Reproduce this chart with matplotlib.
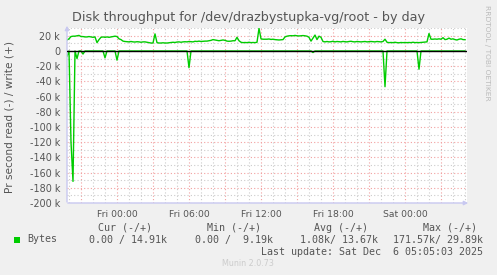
import numpy as np
import matplotlib
matplotlib.use("Agg")
import matplotlib.pyplot as plt
import matplotlib.dates as mdates
from matplotlib.ticker import MultipleLocator, FuncFormatter
from matplotlib.patches import Rectangle

# 5-minute munin samples, shown here every 10 minutes
start = np.datetime64("2025-12-04T19:50")
step_min = 10

# write (+), in k bytes per second
write_k = [
    14.5, 16, 19, 19.5, 19.5, 20, 20.5, 19, 19, 18.5,
    18.5, 19, 18.5, 18, 18.5, 11, 15, 18, 18.5, 18,
    18.5, 18, 18.5, 19, 19.5, 19, 16, 15, 13, 12.5,
    12.2, 12, 12.5, 12, 11.8, 12.2, 12, 11.5, 12, 12,
    11.5, 11, 10.5, 10.5, 22.5, 11, 10.5, 10.5, 10.8, 10.5,
    10.5, 10.8, 11, 11.5, 11.2, 11.8, 12, 11.5, 12, 12.2,
    12, 12.5, 12.2, 12, 12.8, 12.5, 13, 12.5, 12.8, 13,
    13, 13.5, 14, 15, 14.5, 14, 13.5, 14, 14.5, 14,
    13, 12.8, 13, 13.5, 13.5, 18, 13.5, 11.5, 11, 11.2,
    11, 11.5, 11, 11.2, 11, 11.5, 29.9, 16, 15.5, 15.5,
    15.5, 15.8, 15.2, 15.5, 15, 14.8, 14.5, 14.7, 15, 18.5,
    19.5, 20, 20.2, 20, 20.5, 20, 19.8, 20, 20.3, 20,
    19.5, 18, 13, 17, 21, 15, 19.5, 18, 12.5, 12,
    12.5, 12, 12.2, 12.8, 12, 12.5, 12.3, 12, 12.6, 12.2,
    12, 12.5, 12.8, 12.2, 12, 12.5, 12.3, 12, 12.2, 12.5,
    12, 12.3, 12.5, 12.2, 12, 12.5, 12.2, 12, 12.5, 15.5,
    11.5, 11, 11.2, 11, 11.5, 11, 10.8, 11.2, 11, 11.2,
    11, 11.2, 11, 11.5, 11, 11.2, 11, 11.2, 11.5, 11.8,
    12, 23, 15.5, 15.5, 15.8, 15.5, 16, 15.5, 17.5, 15,
    15.5, 17, 15.5, 16, 15, 14.5, 15.5, 16, 15, 14.91,
]

# read (-) is zero except for these samples
read_idx = [0, 2, 3, 5, 8, 19, 25, 61, 123, 159, 176]
read_k = [7, 120, 171.57, 10, 4, 9, 12, 22, 2, 47, 24]

n = len(write_k)
times = start + np.arange(n) * np.timedelta64(step_min, "m")
t_end = start + n * np.timedelta64(step_min, "m")
write = np.array(write_k) * 1000
read = np.zeros(n)
read[read_idx] = np.array(read_k) * 1000

W, H = 497, 275
fig = plt.figure(figsize=(W / 100, H / 100), dpi=100, facecolor="#f0f0f0")

def fx(px):
    return px / W

def fy(py):
    return 1 - py / H

ax = fig.add_axes([fx(67), fy(203), fx(467) - fx(67), fy(28.2) - fy(203)])
ax.set_facecolor("white")

green = "#00cc00"
ax.plot(times, write, color=green, lw=1, zorder=3)
ax.plot(times, -read, color=green, lw=1, zorder=3)
ax.axhline(0, color="black", lw=1, zorder=4)

ax.set_xlim(start, t_end)
ax.set_ylim(-200e3, 30e3)

ax.yaxis.set_major_locator(MultipleLocator(20e3))
ax.yaxis.set_minor_locator(MultipleLocator(10e3))
ax.yaxis.set_major_formatter(FuncFormatter(lambda v, p: "0" if abs(v) < 1 else f"{int(round(v / 1000))} k"))

ax.xaxis.set_major_locator(mdates.HourLocator(byhour=range(0, 24, 3)))
ax.xaxis.set_minor_locator(mdates.HourLocator())

def xfmt(v, p):
    d = mdates.num2date(v)
    if d.hour % 6 == 0:
        return d.strftime("%a %H:%M")
    return ""

ax.xaxis.set_major_formatter(FuncFormatter(xfmt))

ax.grid(which="major", color="#f2a0a0", ls=(0, (1, 2)), lw=0.8)
ax.grid(which="minor", color="#cccccc", ls=(0, (1, 2)), lw=0.8)
ax.set_axisbelow(True)

ax.tick_params(which="both", length=0, colors="#555555")
ax.tick_params(axis="y", labelsize=6.9, pad=5)
ax.tick_params(axis="x", labelsize=6.7, pad=5)

for s in ax.spines.values():
    s.set_visible(False)

axis_col = "#c8c8f0"
ax.annotate("", xy=(1.01, 0), xytext=(-0.005, 0), xycoords="axes fraction",
            arrowprops=dict(arrowstyle="-|>", color=axis_col, lw=1, mutation_scale=6))
ax.annotate("", xy=(0, 1.03), xytext=(0, -0.01), xycoords="axes fraction",
            arrowprops=dict(arrowstyle="-|>", color=axis_col, lw=1, mutation_scale=6))

fig.text(fx(249), fy(18), "Disk throughput for /dev/drazbystupka-vg/root - by day",
         ha="center", va="center", fontsize=9.2, color="#555555")
fig.text(fx(10), fy(117), "Pr second read (-) / write (+)", rotation=90,
         ha="center", va="center", fontsize=7.6, color="#555555")
fig.text(fx(487), fy(5), "RRDTOOL / TOBI OETIKER", rotation=270,
         ha="center", va="top", fontsize=5.4, color="#bbbbbb")

mono = "DejaVu Sans Mono"
tc = "#555555"
fs = 7.2
headers = [("Cur (-/+)", 152), ("Min (-/+)", 261), ("Avg (-/+)", 368), ("Max (-/+)", 477)]
values = [("0.00 / 14.91k", 167), ("0.00 /  9.19k", 273), ("1.08k/ 13.67k", 378), ("171.57k/ 29.89k", 483)]
for txt, xr in headers:
    fig.text(fx(xr), fy(228), txt, ha="right", va="center", family=mono, fontsize=fs, color=tc)
for txt, xr in values:
    fig.text(fx(xr), fy(239.5), txt, ha="right", va="center", family=mono, fontsize=fs, color=tc)
fig.text(fx(27), fy(239.5), "Bytes", ha="left", va="center", family=mono, fontsize=fs, color=tc)
fig.patches.append(Rectangle((fx(14), fy(242.5)), fx(6), 6 / H, transform=fig.transFigure,
                             facecolor=green, edgecolor="none"))
fig.text(fx(483), fy(252), "Last update: Sat Dec  6 05:05:03 2025", ha="right", va="center",
         family=mono, fontsize=fs, color=tc)
fig.text(fx(248), fy(264), "Munin 2.0.73", ha="center", va="center", fontsize=5.8, color="#cccccc")

fig.savefig("out.png", dpi=100, facecolor=fig.get_facecolor())
